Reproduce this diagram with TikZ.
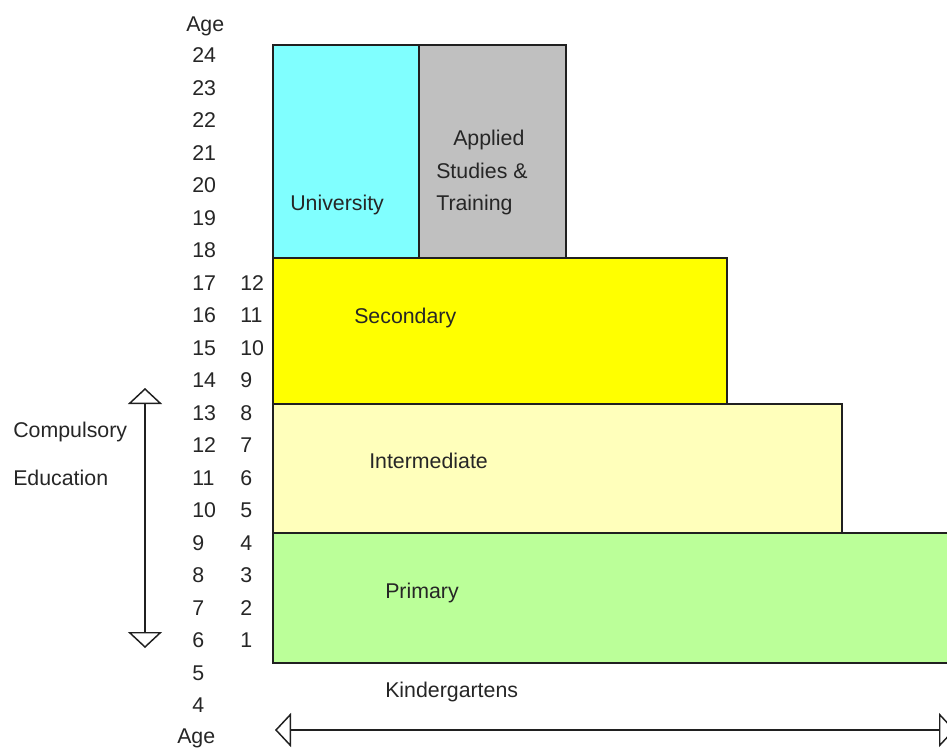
\documentclass[tikz,border=0pt]{standalone}
\usepackage{fontspec}
\setmainfont{Liberation Sans}
\usetikzlibrary{arrows.meta}
\definecolor{unicol}{HTML}{80FFFF}
\definecolor{appcol}{HTML}{C0C0C0}
\definecolor{seccol}{HTML}{FFFF00}
\definecolor{intcol}{HTML}{FFFFBB}
\definecolor{pricol}{HTML}{BBFF99}
\definecolor{edge}{HTML}{202020}
\tikzset{
  lbl/.style={anchor=base west, inner sep=0pt, font=\fontsize{16}{19}\selectfont, text=black!85},
  band/.style={draw=edge, line width=0.9pt},
  span/.style={draw=edge, line width=1.1pt, {Triangle[open,length=12pt,width=25.5pt]}-{Triangle[open,length=12pt,width=25.5pt]}}
}
\begin{document}
\begin{tikzpicture}[x=0.75pt,y=-0.75pt]
\useasboundingbox (0,0) rectangle (947,747);
\clip (0,0) rectangle (947,747);
\fill[white] (0,0) rectangle (947,747);
% bands
\filldraw[band, fill=unicol] (273,45) rectangle (419,258);
\filldraw[band, fill=appcol] (419,45) rectangle (566,258);
\filldraw[band, fill=seccol] (273,258) rectangle (727,404);
\filldraw[band, fill=intcol] (273,404) rectangle (842,533);
\filldraw[band, fill=pricol] (273,533) rectangle (960,663);
% band labels
\node[lbl] (uni) at (290,210) {University};
\node[lbl] (app1) at (453,145) {Applied};
\node[lbl] (app2) at (436,178) {Studies \&};
\node[lbl] (app3) at (436,210) {Training};
\node[lbl] (sec) at (354,323) {Secondary};
\node[lbl] (int) at (369,468) {Intermediate};
\node[lbl] (pri) at (385,598) {Primary};
\node[lbl] (kin) at (385,697) {Kindergartens};
% age column
\node[lbl] (agetop) at (186,31) {Age};
\foreach \a [count=\k from 0] in {24,23,...,4} {
  \node[lbl] (age\a) at (192,{62.5+32.5*\k}) {\a};
}
\node[lbl] (agebot) at (177,743) {Age};
% grade column
\foreach \g [count=\k from 7] in {12,11,...,1} {
  \node[lbl] (gr\g) at (240,{62.5+32.5*\k}) {\g};
}
% compulsory education
\node[lbl] (comp1) at (13,437) {Compulsory};
\node[lbl] (comp2) at (13,485) {Education};
\coordinate (ctop) at (145,388);
\coordinate (cbot) at (145,648);
\draw[span] (ctop) -- (cbot);
% kindergarten span
\coordinate (kl) at (275,730);
\coordinate (kr) at (955,730);
\draw[span] (kl) -- (kr);
\end{tikzpicture}
\end{document}
